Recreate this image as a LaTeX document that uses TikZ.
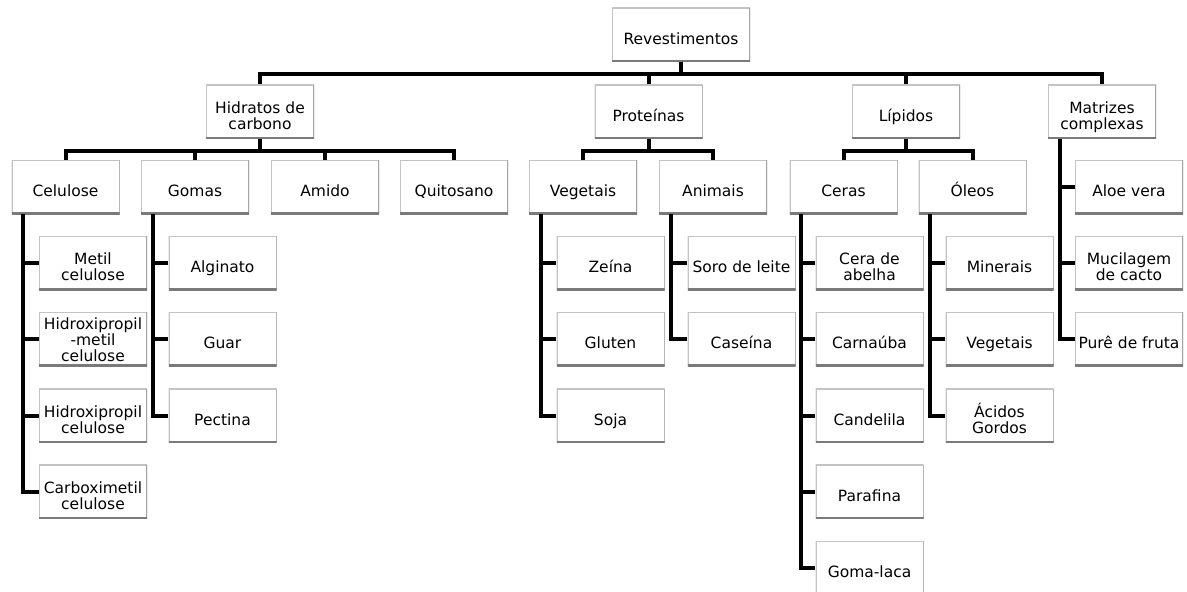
\documentclass[tikz,border=0pt]{standalone}
\usepackage{fontspec}
\setmainfont{DejaVu Sans}
\usetikzlibrary{calc}
\definecolor{Rim}{HTML}{C4C4C4}
\definecolor{RimMid}{HTML}{A4A4A4}
\definecolor{RimDark}{HTML}{7A7A7A}
\newcommand{\boxfont}{\fontsize{15.5}{16}\selectfont}
\tikzset{
  box/.style={minimum width=108pt,minimum height=54pt,inner sep=1pt,align=center,fill=white,font=\boxfont,
    execute at begin node={\rule[-4pt]{0pt}{27pt}},
    execute at end node={\rule[-4pt]{0pt}{4pt}},
    path picture={
      \draw[Rim,line width=2pt] (path picture bounding box.south west) rectangle (path picture bounding box.north east);
      \draw[RimMid,line width=2pt] (path picture bounding box.south east) -- (path picture bounding box.north east);
      \draw[RimDark,line width=4pt] (path picture bounding box.south west) -- (path picture bounding box.south east);
    }},
  duas/.style={execute at begin node={\rule[-4pt]{0pt}{43pt}}},
  tres/.style={execute at begin node={\rule{0pt}{48pt}},execute at end node={}},
  link/.style={line width=4pt,draw=black},
}

\begin{document}
\begin{tikzpicture}[x=1pt,y=-1pt]
\useasboundingbox (0,0) rectangle (1187,592);
% topo
\node[box,minimum width=138pt] (rev) at (681,34.5) {Revestimentos};
\node[box,duas] (hc) at (260,111.5) {Hidratos de\\carbono};
\node[box] (prot) at (648.5,111.5) {Proteínas};
\node[box] (lip) at (906,111.5) {Lípidos};
\node[box,duas] (mat) at (1102,111.5) {Matrizes\\complexas};
% segundo nivel
\node[box] (cel) at (65.5,187) {Celulose};
\node[box] (gom) at (195,187) {Gomas};
\node[box] (ami) at (325,187) {Amido};
\node[box] (qui) at (454,187) {Quitosano};
\node[box] (veg) at (583,187) {Vegetais};
\node[box] (ani) at (713,187) {Animais};
\node[box] (cer) at (843.5,187) {Ceras};
\node[box] (ole) at (972.5,187) {Óleos};
% folhas
\node[box,duas] (cel1) at (93,263.2) {Metil\\celulose};
\node[box,tres] (cel2) at (93,339.4) {Hidroxipropil\\-metil\\celulose};
\node[box,duas] (cel3) at (93,415.6) {Hidroxipropil\\celulose};
\node[box,duas] (cel4) at (93,491.8) {Carboximetil\\celulose};
\node[box] (gom1) at (222.5,263.2) {Alginato};
\node[box] (gom2) at (222.5,339.4) {Guar};
\node[box] (gom3) at (222.5,415.6) {Pectina};
\node[box] (veg1) at (610.5,263.2) {Zeína};
\node[box] (veg2) at (610.5,339.4) {Gluten};
\node[box] (veg3) at (610.5,415.6) {Soja};
\node[box] (ani1) at (741.5,263.2) {Soro de leite};
\node[box] (ani2) at (741.5,339.4) {Caseína};
\node[box,duas] (cer1) at (869.5,263.2) {Cera de\\abelha};
\node[box] (cer2) at (869.5,339.4) {Carnaúba};
\node[box] (cer3) at (869.5,415.6) {Candelila};
\node[box] (cer4) at (869.5,491.8) {Parafina};
\node[box] (cer5) at (869.5,568) {Goma-laca};
\node[box] (ole1) at (999.5,263.2) {Minerais};
\node[box] (ole2) at (999.5,339.4) {Vegetais};
\node[box,duas] (ole3) at (999.5,415.6) {Ácidos\\Gordos};
\node[box] (mat1) at (1129,187) {Aloe vera};
\node[box,duas] (mat2) at (1129,263.2) {Mucilagem\\de cacto};
\node[box] (mat3) at (1129,339.4) {Purê de fruta};
% barras
\coordinate (bus0) at (681,74);
\draw[link] (rev) -- (bus0);
\draw[link] (hc.north) |- (bus0) -| (mat.north);
\draw[link] (prot.north) -- (prot.north |- bus0);
\draw[link] (lip.north) -- (lip.north |- bus0);
\coordinate (bushc) at (260,150.5);
\draw[link] (hc) -- (bushc);
\draw[link] (cel.north) |- (bushc) -| (qui.north);
\draw[link] (gom.north) -- (gom.north |- bushc);
\draw[link] (ami.north) -- (ami.north |- bushc);
\coordinate (busprot) at (648.5,150.5);
\draw[link] (prot) -- (busprot);
\draw[link] (veg.north) |- (busprot) -| (ani.north);
\coordinate (buslip) at (906,150.5);
\draw[link] (lip) -- (buslip);
\draw[link] (cer.north) |- (buslip) -| (ole.north);
% ramos verticais
\foreach \p/\n in {cel/4,gom/3,veg/3,ani/2,cer/5,ole/3,mat/3}{
  \draw[link] ([xshift=12pt]\p.south west) |- (\p\n.west);
  \foreach \k in {1,...,\n}
    \draw[link] (\p\k.west) -- +(-16,0);
}
\end{tikzpicture}
\end{document}
